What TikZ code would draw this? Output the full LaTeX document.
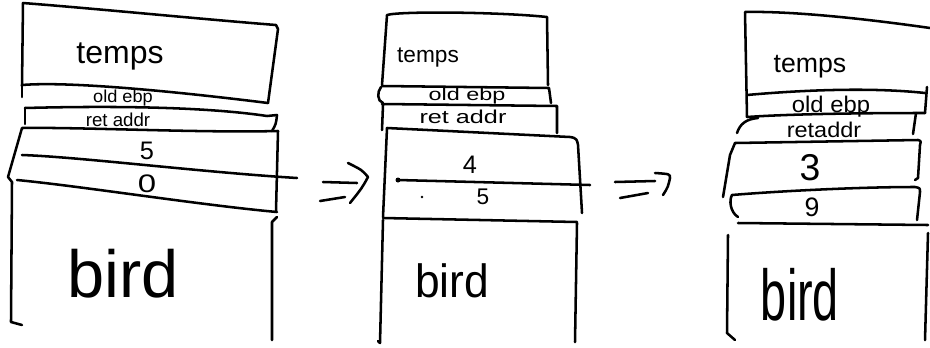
\documentclass[tikz,border=0pt]{standalone}
\usepackage{fontspec}
\setmainfont{Liberation Sans}
\usepackage{graphicx}
% handwritten-style label: horizontal stretch, font size, text
\newcommand\handlabel[3]{\scalebox{#1}[1]{\fontsize{#2}{#2}\selectfont #3}}
\begin{document}
\begin{tikzpicture}[x=0.75pt,y=-0.75pt,
  ink/.style={line width=1.9pt, line cap=round, line join=round},
  lbl/.style={anchor=base, inner sep=0pt}]
\useasboundingbox (0,0) rectangle (930,347);

% ---------------- first frame stack ----------------
\draw[ink] (22,86) -- (23,3) .. controls (100,9) and (200,19) .. (276,25) -- (278,29) -- (268,103);
\draw[ink] (22,85) .. controls (70,81) and (180,92) .. (268,103);
\draw[ink] (22,85) -- (22,97);
\draw[ink] (25,108) .. controls (100,106) and (200,106) .. (267,116) -- (277,115) .. controls (276,124) .. (272,131);
\draw[ink] (25,108) -- (25,124);
\draw[ink] (278,131) .. controls (200,133) and (80,127) .. (22,128) -- (8,177) -- (12,182) -- (11,322) -- (22,325);
\draw[ink] (278,131) -- (276,211);
\draw[ink] (22,155) .. controls (80,157) and (200,172) .. (297,178);
\draw[ink] (17,180) .. controls (80,186) and (200,205) .. (277,212);
\draw[ink] (277,217) -- (272,222) -- (272,340);

\node[lbl] (t1)   at (120,63)  {\handlabel{1}{24}{temps}};
\node[lbl] (e1)   at (123,102) {\handlabel{1.05}{13}{old ebp}};
\node[lbl] (r1)   at (118,126) {\handlabel{1}{14}{ret addr}};
\node[lbl] (a1)   at (147,159) {\handlabel{1}{19}{5}};
\node[lbl] (b1)   at (147,192) {\handlabel{1.3}{19}{0}};
\node[lbl] (bd1)  at (123,297) {\handlabel{1}{50}{bird}};

% ---------------- first arrow ----------------
\draw[ink] (323,182) -- (357,183);
\draw[ink] (320,201) -- (345,197);
\draw[ink] (348,163) .. controls (362,170) .. (368,177) .. controls (362,188) .. (350,203);

% ---------------- second frame stack ----------------
\draw[ink] (382,85) -- (387,15) .. controls (400,11) and (500,12) .. (547,17) -- (548,85);
\draw[ink] (382,86) -- (549,88) -- (551,103);
\draw[ink] (381,87) .. controls (377,92) and (377,101) .. (383,103);
\draw[ink] (382,104) -- (557,106) -- (557,133);
\draw[ink] (383,105) -- (382,130);
\draw[ink] (383,217) -- (387,128) -- (570,137) .. controls (577,138) and (577,140) .. (578,145) -- (582,213);
\draw[ink] (398,180) -- (590,185);
\fill (398,180) circle (2.5);
\fill (422,197) circle (1.3);
\draw[ink] (383,218) -- (577,222);
\draw[ink] (383,220) -- (380,343) -- (378,341);
\draw[ink] (577,223) -- (575,342);

\node[lbl] (t2)   at (428,62)  {\handlabel{1}{17}{temps}};
\node[lbl] (e2)   at (467,100) {\handlabel{1.35}{13}{old ebp}};
\node[lbl] (r2)   at (463,123) {\handlabel{1.35}{14}{ret addr}};
\node[lbl] (a2)   at (470,173) {\handlabel{1}{19}{4}};
\node[lbl] (b2)   at (483,204) {\handlabel{1}{17}{5}};
\node[lbl] (bd2)  at (452,297) {\handlabel{0.95}{35}{bird}};

% ---------------- second arrow ----------------
\draw[ink] (615,182) -- (655,181);
\draw[ink] (620,198) -- (648,193);
\draw[ink] (655,173) .. controls (670,174) .. (670,178) .. controls (668,187) .. (663,195);

% ---------------- third frame stack ----------------
\draw[ink] (747,117) -- (745,12) .. controls (790,11) and (860,18) .. (930,28);
\draw[ink] (747,95) .. controls (780,92) and (860,86) .. (925,93);
\draw[ink] (927,87) -- (925,113);
\draw[ink] (747,117) .. controls (790,114) and (860,113) .. (925,113);
\draw[ink] (737,133) .. controls (740,124) and (746,119) .. (758,118);
\draw[ink] (911,113) -- (920,113);
\draw[ink] (916,113) -- (913,134);
\draw[ink] (723,197) -- (730,155) -- (735,143) -- (918,140) .. controls (921,141) .. (920,145) -- (918,178) -- (915,180);
\draw[ink] (738,217) .. controls (730,212) and (729,200) .. (732,195) .. controls (780,191) and (860,187) .. (915,187) .. controls (920,188) .. (920,192) -- (917,220);
\draw[ink] (738,223) -- (928,225);
\draw[ink] (728,235) -- (727,333) -- (735,340);
\draw[ink] (928,233) -- (925,340);

\node[lbl] (t3)   at (810,72)  {\handlabel{1}{20}{temps}};
\node[lbl] (e3)   at (831,112) {\handlabel{1.05}{17}{old ebp}};
\node[lbl] (r3)   at (824,137) {\handlabel{1.1}{16}{retaddr}};
\node[lbl] (a3)   at (810,180) {\handlabel{1}{28}{3}};
\node[lbl] (b3)   at (812,216) {\handlabel{1}{20}{9}};
\node[lbl] (bd3)  at (800,320) {\handlabel{0.65}{54}{bird}};
\end{tikzpicture}
\end{document}
